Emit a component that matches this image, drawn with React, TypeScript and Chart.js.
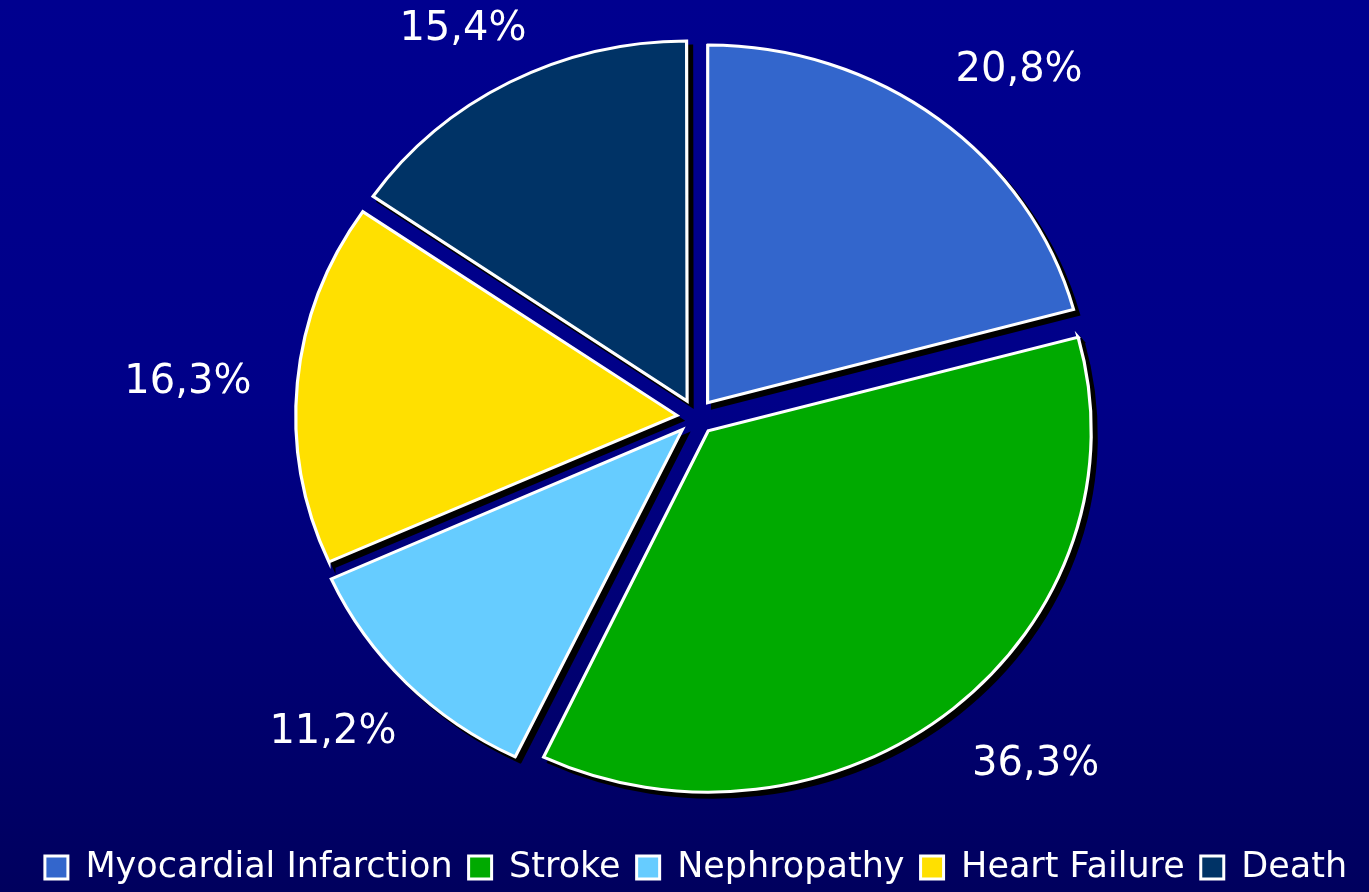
import React, { useEffect, useRef } from "react";
import { Chart, registerables } from "chart.js";

Chart.register(...registerables);

const categories = ["Myocardial Infarction", "Stroke", "Nephropathy", "Heart Failure", "Death"];
const values = [20.8, 36.3, 11.2, 16.3, 15.4];
const valueLabels = ["20,8%", "36,3%", "11,2%", "16,3%", "15,4%"];
const colors = ["#3366CC", "#00AA00", "#66CCFF", "#FFE000", "#003366"];

const FONT = '"Comic Sans MS", "DejaVu Sans", sans-serif';
const X_STRETCH = 1.06;
const SHADOW = 5;
const LABEL_GAP = 72;
const LABEL_SHIFT_X = 8;
const LABEL_SHIFT_Y = 6;

function stretch(ctx: CanvasRenderingContext2D, cx: number, cy: number) {
  ctx.translate(cx, cy);
  ctx.scale(X_STRETCH, 1);
  ctx.translate(-cx, -cy);
}

const pieStyle = {
  id: "pieStyle",
  beforeDatasetsDraw(chart: any) {
    const ctx = chart.ctx as CanvasRenderingContext2D;
    const meta = chart.getDatasetMeta(0);
    const first = meta.data[0];
    if (!first) return;
    const cx = first.x;
    const cy = first.y;
    // shadow pass
    ctx.save();
    ctx.translate(SHADOW, SHADOW);
    stretch(ctx, cx, cy);
    (ctx as any).filter = "brightness(0)";
    meta.data.forEach((el: any) => el.draw(ctx));
    ctx.restore();
    // main pass transform
    ctx.save();
    stretch(ctx, cx, cy);
  },
  afterDatasetsDraw(chart: any) {
    const ctx = chart.ctx as CanvasRenderingContext2D;
    ctx.restore();
    const meta = chart.getDatasetMeta(0);
    ctx.save();
    ctx.font = `40px ${FONT}`;
    ctx.fillStyle = "#FFFFFF";
    ctx.textAlign = "center";
    ctx.textBaseline = "middle";
    meta.data.forEach((el: any, i: number) => {
      const { x, y, startAngle, endAngle, outerRadius } = el.getProps(
        ["x", "y", "startAngle", "endAngle", "outerRadius"],
        true
      );
      const a = (startAngle + endAngle) / 2;
      const c = Math.cos(a);
      const s = Math.sin(a);
      const d = outerRadius + LABEL_GAP;
      const text = valueLabels[i];
      const w = ctx.measureText(text).width;
      const h = 30;
      const tx = x + c * d * X_STRETCH + (c * w) / 2 + LABEL_SHIFT_X;
      const ty = y + s * d + (s * h) / 2 + LABEL_SHIFT_Y;
      ctx.fillText(text, tx, ty);
    });
    ctx.restore();
  },
};

export default function App() {
  const canvasRef = useRef<HTMLCanvasElement | null>(null);

  useEffect(() => {
    const canvas = canvasRef.current;
    if (!canvas) return;
    const chart = new Chart(canvas, {
      type: "pie",
      data: {
        labels: categories,
        datasets: [
          {
            data: values,
            backgroundColor: colors,
            borderColor: "#FFFFFF",
            borderWidth: 3,
            borderJoinStyle: "miter",
            offset: 72,
            hoverOffset: 0,
            clip: false,
          } as any,
        ],
      },
      options: {
        animation: false,
        responsive: true,
        maintainAspectRatio: false,
        events: [],
        radius: 357,
        layout: { padding: { top: -18, bottom: -3, left: 23, right: 0 } },
        plugins: {
          tooltip: { enabled: false },
          legend: {
            position: "bottom",
            align: "center",
            labels: {
              color: "#FFFFFF",
              font: { family: FONT, size: 35 },
              boxWidth: 23,
              boxHeight: 23,
              padding: 16,
            },
          },
        },
      } as any,
      plugins: [pieStyle as any],
    });
    return () => chart.destroy();
  }, []);

  return (
    <div
      style={{
        position: "fixed",
        left: 0,
        top: 0,
        width: 1369,
        height: 892,
        background: "linear-gradient(to bottom, #00008F 0%, #000088 45%, #00005E 100%)",
        overflow: "hidden",
      }}
    >
      <div style={{ position: "relative", width: 1369, height: 892 }}>
        <canvas ref={canvasRef} />
      </div>
    </div>
  );
}
